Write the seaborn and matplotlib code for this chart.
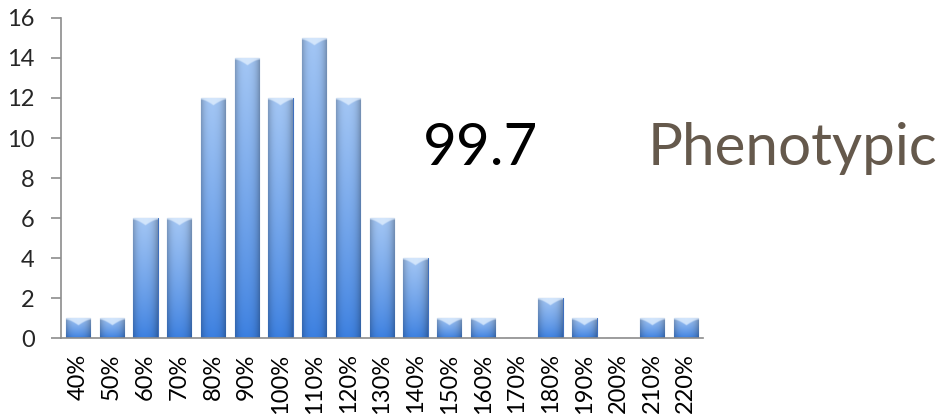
import numpy as np
import pandas as pd
import matplotlib
matplotlib.use("Agg")
import matplotlib.pyplot as plt
from matplotlib.colors import to_rgb
import seaborn as sns

# Histogram bins (relative value) and counts
categories = ["40%", "50%", "60%", "70%", "80%", "90%", "100%", "110%", "120%",
              "130%", "140%", "150%", "160%", "170%", "180%", "190%", "200%",
              "210%", "220%"]
counts = [1, 1, 6, 6, 12, 14, 12, 15, 12, 6, 4, 1, 1, 0, 2, 1, 0, 1, 1]
mean_label = "99.7"
title_word = "Phenotypic"

df = pd.DataFrame({"bin": categories, "count": counts})

sns.set_style("white")
plt.rcParams["font.family"] = ["Lato", "DejaVu Sans"]

fig = plt.figure(figsize=(9.49, 4.17), dpi=100)
ax = fig.add_axes([0.0643, 0.189, 0.676, 0.768])

sns.barplot(data=df, x="bin", y="count", color="#5b8fdc", width=0.72,
            saturation=1, ax=ax, edgecolor="#3f6fbd", linewidth=0.8)

# glossy fill: light at the top, saturated at the bottom, darker sides
top_c = np.array(to_rgb("#a3c6f4"))
bot_c = np.array(to_rgb("#3b7fe0"))
ny, nx = 96, 48
v = np.linspace(0, 1, ny)[:, None, None]          # 0 bottom, 1 top
u = np.linspace(-1, 1, nx)[None, :, None]
base = bot_c * (1 - v ** 0.8) + top_c * v ** 0.8
side = 1 - 0.22 * np.abs(u) ** 3 - 0.05 * np.clip(u, 0, 1)
shade = np.clip(base * side, 0, 1)

# bevelled highlight for the bar tops (a light band with a V in the middle)
cy, cx = 40, 48
t = np.linspace(0, 1, cy)[:, None]                # 0 bottom of cap, 1 top
s = np.abs(np.linspace(-1, 1, cx))[None, :]
depth = np.clip(0.25 + 0.75 * (1 - s) ** 1.5, 0, 1)
cap_alpha = np.clip((t - (1 - depth)) * 6, 0, 1) * 0.75
cap = np.zeros((cy, cx, 4))
cap[..., :3] = to_rgb("#e4f1ff")
cap[..., 3] = cap_alpha
cap_units = 0.38

for p in ax.patches:
    h = p.get_height()
    if h <= 0:
        continue
    x0, w = p.get_x(), p.get_width()
    im = ax.imshow(shade, aspect="auto", origin="lower",
                   extent=(x0, x0 + w, 0, h), zorder=p.get_zorder() + 0.1,
                   interpolation="bilinear")
    im.set_clip_path(p)
    ch = min(cap_units, h * 0.6)
    cim = ax.imshow(cap, aspect="auto", origin="lower",
                    extent=(x0, x0 + w, h - ch, h),
                    zorder=p.get_zorder() + 0.2, interpolation="bilinear")
    cim.set_clip_path(p)

n = len(categories)
ax.set_xlim(-0.5, n - 0.5)
ax.set_ylim(0, 16)
ax.set_yticks(range(0, 17, 2))
ax.set_xlabel("")
ax.set_ylabel("")

for s_ in ["top", "right"]:
    ax.spines[s_].set_visible(False)
for s_ in ["left", "bottom"]:
    ax.spines[s_].set_color("#8c8c8c")
    ax.spines[s_].set_linewidth(1.2)

ax.set_xticks(range(n))
ax.set_xticklabels(categories, rotation=90)
ax.set_xticks(np.arange(-0.5, n, 1), minor=True)
ax.tick_params(axis="x", which="major", length=0, labelsize=17, pad=11,
               colors="black")
ax.tick_params(axis="x", which="minor", length=6, width=1.2, color="#8c8c8c",
               direction="out")
ax.tick_params(axis="y", length=7, width=1.2, color="#8c8c8c", labelsize=17,
               pad=12, direction="out", left=True)

fig.text(0.446, 0.604, mean_label, fontsize=42, color="black",
         ha="left", va="baseline")
fig.text(0.682, 0.604, title_word, fontsize=42, color="#65594c",
         ha="left", va="baseline")

fig.savefig("out.png", dpi=100)
